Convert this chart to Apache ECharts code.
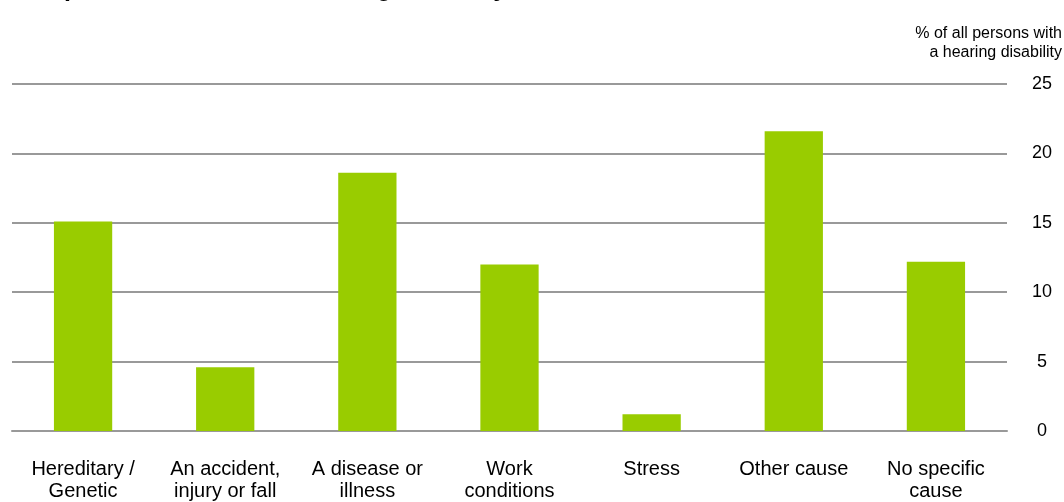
<!DOCTYPE html>
<html>
<head>
<meta charset="utf-8">
<script src="https://cdn.jsdelivr.net/npm/echarts@6/dist/echarts.min.js"></script>
<style>
html,body{margin:0;padding:0;background:#fff;}
#chart{width:1064px;height:502px;}
</style>
</head>
<body>
<div id="chart"></div>
<script>
const categories = ["Hereditary /\nGenetic", "An accident,\ninjury or fall", "A disease or\nillness", "Work\nconditions", "Stress", "Other cause", "No specific\ncause"];
const values = [15.1, 4.6, 18.6, 12.0, 1.2, 21.6, 12.2];
const yTicks = [0, 5, 10, 15, 20, 25];
const titleText = "Reported cause of the hearing disability";
const unitText = "% of all persons with\na hearing disability";

const chart = echarts.init(document.getElementById('chart'));
const font = 'Liberation Sans, Arial, sans-serif';
chart.setOption({
  animation: false,
  title: {
    text: titleText,
    left: 27, top: -28,
    textStyle: {fontFamily: font, fontWeight: 'bold', fontSize: 25, color: '#000'}
  },
  graphic: [{
    type: 'text', right: 2, top: 24,
    style: {text: unitText, font: '16px ' + font, fill: '#000', textAlign: 'right', lineHeight: 19}
  }],
  grid: {left: 12, right: 57, top: 84, bottom: 71, containLabel: false},
  xAxis: {
    type: 'category', data: categories,
    axisLine: {show: true, lineStyle: {color: '#999', width: 2}},
    axisTick: {show: false},
    axisLabel: {interval: 0, margin: 27, fontFamily: font, fontSize: 20, color: '#000', lineHeight: 22}
  },
  yAxis: {
    type: 'value', position: 'right', min: yTicks[0], max: yTicks[yTicks.length - 1], interval: 5,
    axisLine: {show: false}, axisTick: {show: false},
    splitLine: {lineStyle: {color: '#999', width: 2}},
    axisLabel: {margin: 35, align: 'center', fontFamily: font, fontSize: 18, color: '#000'}
  },
  series: [{
    type: 'bar', data: values, barWidth: '41%',
    itemStyle: {color: '#99cc00'}
  }]
});
</script>
</body>
</html>
